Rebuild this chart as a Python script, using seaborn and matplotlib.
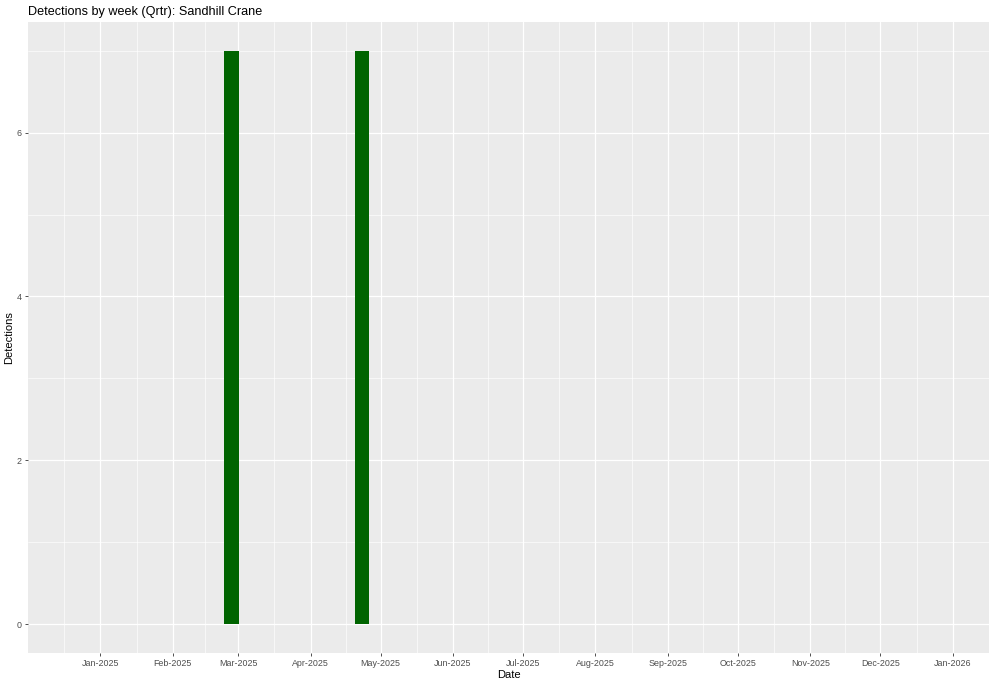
import datetime as dt
import matplotlib
matplotlib.use("Agg")
import matplotlib.pyplot as plt
import matplotlib.dates as mdates
import seaborn as sns
import pandas as pd

# weekly detections (only weeks with detections are drawn)
weeks = ["2025-02-26", "2025-04-23"]
detections = [7, 7]
month_starts = pd.date_range("2024-12-01", "2026-02-01", freq="MS")
y_breaks = [0, 2, 4, 6]
y_minor = [1, 3, 5, 7]

sns.set_theme(style="darkgrid")
plt.rcParams["font.family"] = ["Liberation Sans", "DejaVu Sans"]

df = pd.DataFrame({"week": pd.to_datetime(weeks), "n": detections})
df["x"] = mdates.date2num(df["week"])

fig = plt.figure(figsize=(10, 6.85), dpi=100)
ax = fig.add_axes([0.028, 0.0467, 0.961, 0.9213])
ax.set_facecolor("#EBEBEB")

# bar width 0.9 * 7 days, relative to spacing between the two weeks
spacing = df["x"].diff().min()
sns.barplot(data=df, x="x", y="n", native_scale=True, width=6.3 / spacing,
            color="#006400", saturation=1, linewidth=0, ax=ax, zorder=3)

ax.set_xlim(mdates.date2num(dt.date(2024, 12, 1)), mdates.date2num(dt.date(2026, 1, 16)))
ax.set_ylim(-0.35, 7.35)

major_x = mdates.date2num(month_starts[1:-1])
all_x = mdates.date2num(month_starts)
minor_x = (all_x[:-1] + all_x[1:]) / 2
ax.set_xticks(major_x)
ax.set_xticklabels([d.strftime("%b-%Y") for d in month_starts[1:-1]])
ax.set_xticks(minor_x, minor=True)
ax.set_yticks(y_breaks)
ax.set_yticklabels([str(v) for v in y_breaks])
ax.set_yticks(y_minor, minor=True)

ax.grid(which="major", color="white", linewidth=0.9, zorder=0)
ax.grid(which="minor", color="white", linewidth=0.45, zorder=0)
ax.set_axisbelow(True)
for s in ax.spines.values():
    s.set_visible(False)

ax.tick_params(axis="both", which="major", length=2.5, width=0.6, color="#333333",
               labelsize=6.4, labelcolor="#4D4D4D", pad=2, bottom=True, left=True)
ax.tick_params(axis="both", which="minor", length=0)

ax.set_xlabel("Date", fontsize=8, color="black", labelpad=1)
ax.set_ylabel("Detections", fontsize=8, color="black")
ax.yaxis.set_label_coords(-0.0146, 0.5)
ax.set_title("Detections by week (Qrtr): Sandhill Crane", loc="left",
             fontsize=9.1, color="black", pad=5)

fig.savefig("out.png", dpi=100, facecolor="white")
